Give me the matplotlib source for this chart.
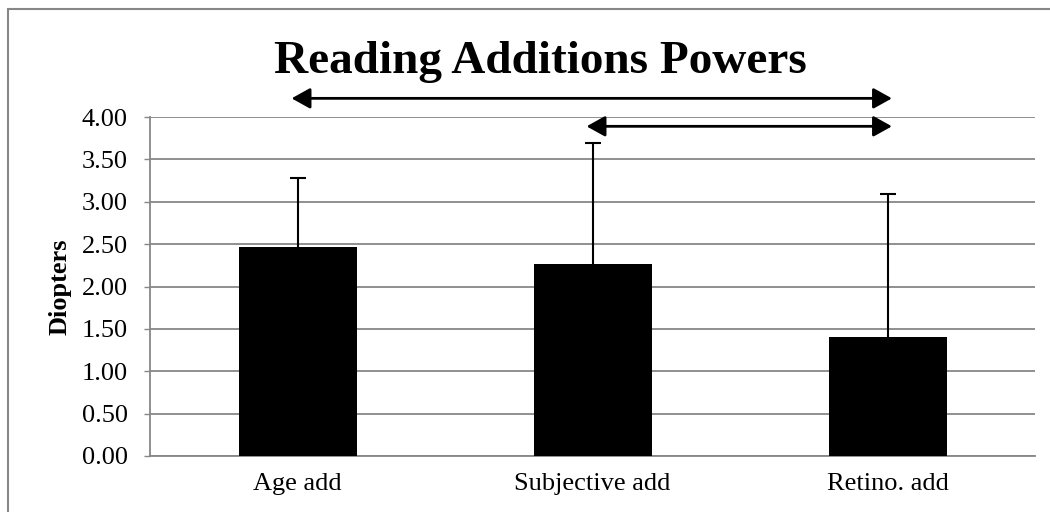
import matplotlib.pyplot as plt
from matplotlib.patches import Rectangle

categories = ['Age add', 'Subjective add', 'Retino. add']
means = [2.47, 2.26, 1.40]
sd_upper = [0.81, 1.43, 1.69]
yticks = [0.0, 0.5, 1.0, 1.5, 2.0, 2.5, 3.0, 3.5, 4.0]

plt.rcParams['font.family'] = ['Liberation Serif', 'DejaVu Serif']

fig = plt.figure(figsize=(10.5, 5.12), dpi=100)
ax = fig.add_axes([150 / 1050, 1 - 456 / 512, 885 / 1050, 339 / 512])

x = list(range(len(categories)))
ax.bar(x, means, width=0.4, color='black', zorder=3)
eb = ax.errorbar(x, means, yerr=[[0] * len(means), sd_upper], fmt='none',
                 ecolor='black', elinewidth=1.5, capsize=5.5, capthick=1.5, zorder=4)
# one-sided error bars: hide the lower caps
eb[1][0].set_visible(False)

ax.set_xlim(-0.5, 2.5)
ax.set_ylim(0, 4)
ax.set_yticks(yticks)
ax.set_yticklabels(['%.2f' % v for v in yticks], fontsize=19)
ax.set_xticks(x)
ax.set_xticklabels(categories, fontsize=19)
ax.tick_params(axis='x', length=0, pad=12)
ax.tick_params(axis='y', length=4, width=1, color='#878787', pad=12)
ax.yaxis.grid(True, color='#878787', linewidth=1.3, zorder=0)
ax.set_axisbelow(True)
for s in ['top', 'right']:
    ax.spines[s].set_visible(False)
for s in ['left', 'bottom']:
    ax.spines[s].set_color('#878787')
    ax.spines[s].set_linewidth(1.3)

ax.set_ylabel('Diopters', fontsize=19, fontweight='bold')
ax.yaxis.set_label_coords(-78 / 885, 0.5)

fig.text(540 / 1050, 1 - 73 / 512, 'Reading Additions Powers', fontsize=34,
         fontweight='bold', ha='center', va='baseline')

# significance arrows
arrows = [(0, 2, 4.22), (1, 2, 3.89)]
for a, b, y in arrows:
    ax.annotate('', xy=(a - 0.02, y), xytext=(b + 0.015, y),
                arrowprops=dict(arrowstyle='<|-|>,head_length=0.45,head_width=0.25',
                                color='black', lw=2,
                                mutation_scale=25, shrinkA=0, shrinkB=0),
                annotation_clip=False)

fig.patches.append(Rectangle((8 / 1050, -0.05), 1.1, 1.05 - 9 / 512,
                             transform=fig.transFigure, fill=False,
                             edgecolor='#878787', linewidth=1.5))

fig.savefig('out.png', dpi=100)
